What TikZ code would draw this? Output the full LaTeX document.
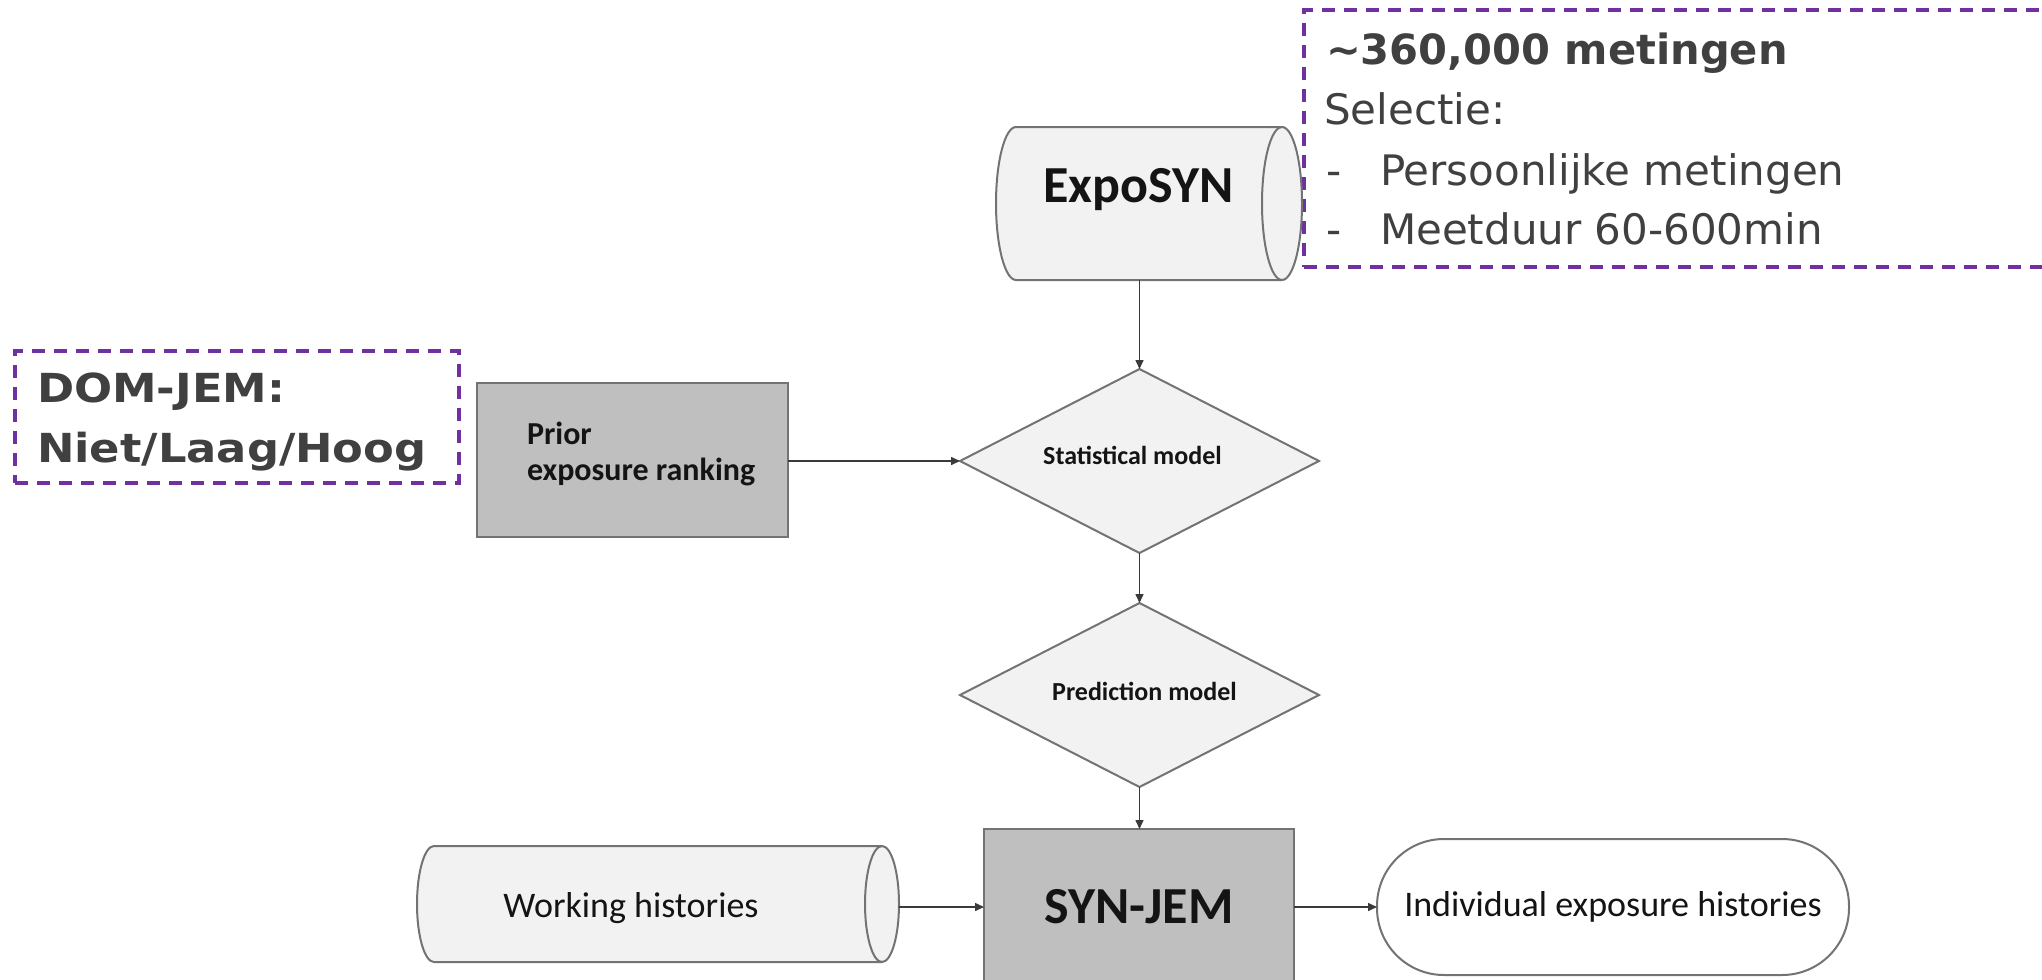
\documentclass[tikz,border=0pt]{standalone}
\usepackage{fontspec}
\setmainfont{Carlito}
\newfontfamily\purpA{DejaVu Sans}
\newfontfamily\purpB[FakeStretch=1.12]{DejaVu Sans}
\newfontfamily\purpR{DejaVu Sans}
\usetikzlibrary{shapes.geometric,arrows.meta}
\definecolor{purp}{HTML}{7030A0}
\definecolor{txtgray}{HTML}{404040}
\definecolor{lightfill}{HTML}{F2F2F2}
\definecolor{darkfill}{HTML}{BFBFBF}
\definecolor{edgegray}{HTML}{737373}
\definecolor{arrowc}{HTML}{3A3A3A}
\definecolor{inktext}{HTML}{141414}
\tikzset{
  outline/.style={draw=edgegray, line width=1pt},
  graybox/.style={rectangle, outline, fill=darkfill, inner sep=0pt, outer sep=0pt},
  decision/.style={diamond, outline, fill=lightfill, inner sep=0pt, outer sep=0pt,
    minimum width=179.5pt, minimum height=92pt, aspect=2},
  terminal/.style={rectangle, rounded corners=33.5pt, outline, fill=white,
    minimum width=236pt, minimum height=68pt, inner sep=0pt, outer sep=0pt,
    text=inktext, font=\fontsize{18}{21}\selectfont},
  cylbody/.style={rectangle, inner sep=0pt, outer sep=0pt},
  cylshape/.style={outline, fill=lightfill},
  note/.style={rectangle, draw=purp, line width=1.75pt, dash pattern=on 6.5pt off 4.5pt,
    inner sep=0pt, outer sep=0pt},
  arr/.style={draw=arrowc, line width=0.75pt, -{Triangle[length=4.5pt,width=4pt]}},
  lbl/.style={inner sep=0pt, outer sep=0pt, anchor=base, text=inktext},
  notetext/.style={inner sep=0pt, outer sep=0pt, anchor=base west, text=txtgray},
  notebold/.style={notetext, font=\purpA\bfseries\fontsize{20.8}{24}\selectfont},
  notereg/.style={notetext, font=\purpR\fontsize{21}{24}\selectfont},
  notebig/.style={notetext, font=\purpB\bfseries\fontsize{20}{24}\selectfont},
  bigbold/.style={font=\bfseries\fontsize{26}{30}\selectfont},
  smallbold/.style={font=\bfseries\fontsize{13}{15}\selectfont},
  midbold/.style={font=\bfseries\fontsize{16}{18}\selectfont},
  regtext/.style={font=\fontsize{18}{21}\selectfont}
}
% horizontal cylinder: xl, xr (body corners), ytop, ybottom, x radius of the end ellipse
\newcommand\hcyl[5]{%
  \pgfmathsetmacro\cyA{(#3+#4)/2}%
  \pgfmathsetmacro\cyK{0.5523*(#4-#3)/2}%
  \pgfmathsetmacro\cxK{0.5523*#5}%
  \path[cylshape] (#1,#3) -- (#2,#3)
    .. controls (#2+\cxK,#3) and (#2+#5,\cyA-\cyK) .. (#2+#5,\cyA)
    .. controls (#2+#5,\cyA+\cyK) and (#2+\cxK,#4) .. (#2,#4)
    -- (#1,#4)
    .. controls (#1-\cxK,#4) and (#1-#5,\cyA+\cyK) .. (#1-#5,\cyA)
    .. controls (#1-#5,\cyA-\cyK) and (#1-\cxK,#3) .. (#1,#3) -- cycle;
  \draw[outline] (#2,#3)
    .. controls (#2-\cxK,#3) and (#2-#5,\cyA-\cyK) .. (#2-#5,\cyA)
    .. controls (#2-#5,\cyA+\cyK) and (#2-\cxK,#4) .. (#2,#4);
}
\begin{document}
\begin{tikzpicture}[x=0.5pt,y=-0.5pt]
\clip (0,0) rectangle (2042,980);
\fill[white] (0,0) rectangle (2042,980);

% purple notes
\node[note, minimum width=378pt, minimum height=128.5pt] (sel) at (1682,138.5) {};
\node[notebold] (selA) at (1326,64) {\textasciitilde 360,000 metingen};
\node[notereg] (selB) at (1324,124) {Selectie:};
\node[notereg] (selC1) at (1326,185) {-};
\node[notereg] (selC2) at (1380,185) {Persoonlijke metingen};
\node[notereg] (selD1) at (1326,244) {-};
\node[notereg] (selD2) at (1380,244) {Meetduur 60-600min};

\node[note, minimum width=222pt, minimum height=66pt] (dom) at (237,417) {};
\node[notebig] (domA) at (37,402) {DOM-JEM:};
\node[notebig] (domB) at (37,462) {Niet/Laag/Hoog};

% ExpoSYN cylinder
\hcyl{1016}{1282}{127}{280}{20}
\node[cylbody, minimum width=153pt, minimum height=76.5pt] (expo) at (1149,203.5) {};
\node[lbl, bigbold] (expoT) at (1138.5,202) {ExpoSYN};

% Working histories cylinder
\hcyl{434}{882}{846}{962}{17}
\node[cylbody, minimum width=241pt, minimum height=58pt] (wh) at (658,904) {};
\node[lbl, regtext] (whT) at (631,917) {Working histories};

% Prior exposure ranking
\node[graybox, minimum width=155.5pt, minimum height=77pt] (prior) at (632.5,460) {};
\node[lbl, anchor=base west, midbold] (priorT1) at (527,444) {Prior};
\node[lbl, anchor=base west, midbold] (priorT2) at (527,480) {exposure ranking};

% decisions
\node[decision] (stat) at (1139.5,461) {};
\node[lbl, smallbold] (statT) at (1132.5,464) {Statistical model};
\node[decision] (pred) at (1139.5,695) {};
\node[lbl, smallbold] (predT) at (1144.5,700) {Prediction model};

% SYN-JEM
\node[graybox, minimum width=155pt, minimum height=78pt, bigbold, text=inktext] (syn) at (1139,907) {SYN-JEM};

% Individual exposure histories
\node[terminal] (ind) at (1613,907) {Individual exposure histories};

% connectors
\draw[arr] (stat.north |- expo.south) -- (stat.north);
\draw[arr] (prior.east |- stat.west) -- (stat.west);
\draw[arr] (stat.south) -- (pred.north);
\draw[arr] (pred.south) -- (pred.south |- syn.north);
\draw[arr] (wh.east |- syn.west) -- (syn.west);
\draw[arr] (syn.east) -- (ind.west);
\end{tikzpicture}
\end{document}
